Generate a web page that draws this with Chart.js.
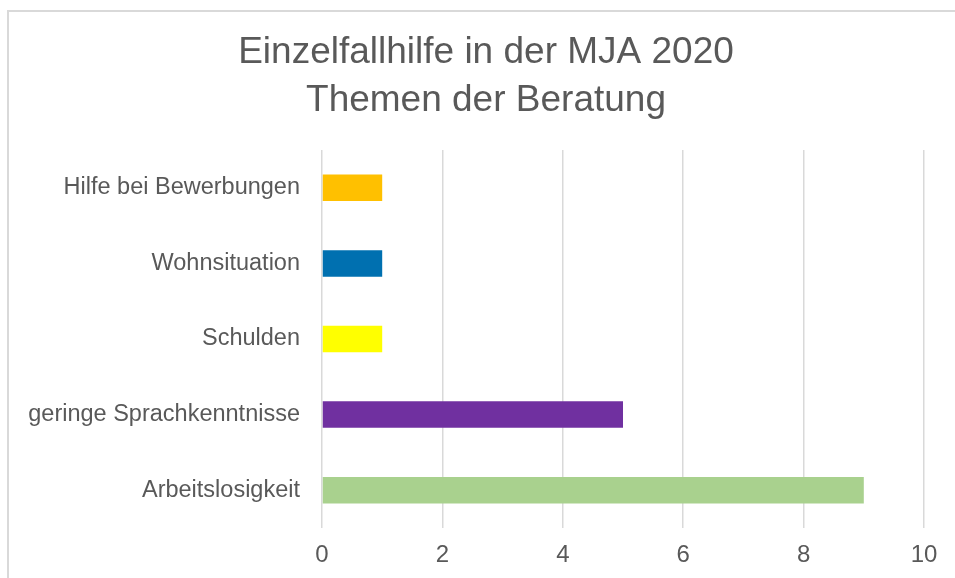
<!DOCTYPE html>
<html>
<head>
<meta charset="utf-8">
<script src="https://cdn.jsdelivr.net/npm/chart.js@4"></script>
<style>
  html, body { margin: 0; padding: 0; background: #fff; overflow: hidden; }
  #frame { position: absolute; left: 7px; top: 10px; width: 960px; height: 580px; border: 2px solid #d9d9d9; box-sizing: border-box; }
  #wrap { position: absolute; left: 0; top: 0; width: 955px; height: 578px; }
</style>
</head>
<body>
<div id="frame"></div>
<div id="wrap"><canvas id="chart" width="955" height="578"></canvas></div>
<script>
// --- Data ---
const titleLines = ['Einzelfallhilfe in der MJA 2020', 'Themen der Beratung'];
const categories = ['Hilfe bei Bewerbungen', 'Wohnsituation', 'Schulden', 'geringe Sprachkenntnisse', 'Arbeitslosigkeit'];
const values = [1, 1, 1, 5, 9];
const barColors = ['#FFC000', '#0070B0', '#FFFF00', '#7030A0', '#A9D18E'];
const xTicks = [0, 2, 4, 6, 8, 10];

const textColor = '#595959';
const gridColor = '#d9d9d9';
const fontFamily = 'Arial, "Liberation Sans", sans-serif';

// plot area edges
const PLOT_LEFT = 322;
const PLOT_TOP = 150;
const PLOT_BOTTOM = 528;
const PAD_LEFT = 10;

// the original title sits a bit right of the canvas centre, so draw it by hand
const titlePlugin = {
    id: 'offsetTitle',
    afterDraw(chart) {
        const ctx = chart.ctx;
        ctx.save();
        ctx.fillStyle = textColor;
        ctx.font = `37px ${fontFamily}`;
        ctx.textAlign = 'center';
        ctx.textBaseline = 'middle';
        titleLines.forEach((line, i) => ctx.fillText(line, 486, 53 + i * 48));
        ctx.restore();
    }
};

new Chart(document.getElementById('chart').getContext('2d'), {
    type: 'bar',
    data: {
        labels: categories,
        datasets: [{
            data: values,
            backgroundColor: barColors,
            borderWidth: 0,
            barPercentage: 0.35,
            categoryPercentage: 1.0
        }]
    },
    options: {
        indexAxis: 'y',
        responsive: false,
        animation: false,
        layout: { padding: { left: PAD_LEFT, right: 31, top: PLOT_TOP, bottom: 0 } },
        plugins: {
            legend: { display: false },
            tooltip: { enabled: false },
            title: { display: false }
        },
        scales: {
            x: {
                min: 0,
                max: 10,
                afterBuildTicks: scale => { scale.ticks = xTicks.map(v => ({ value: v })); },
                afterFit: scale => { scale.height = 578 - PLOT_BOTTOM; },
                grid: { color: gridColor, lineWidth: 1.5, drawTicks: false },
                border: { display: false },
                ticks: {
                    color: textColor,
                    padding: 13,
                    font: { family: fontFamily, size: 24 }
                }
            },
            y: {
                afterFit: scale => { scale.width = PLOT_LEFT - PAD_LEFT; },
                grid: { display: false, drawTicks: false },
                border: { display: false },
                ticks: {
                    color: textColor,
                    padding: 22,
                    font: { family: fontFamily, size: 23.5 }
                }
            }
        }
    },
    plugins: [titlePlugin]
});
</script>
</body>
</html>
